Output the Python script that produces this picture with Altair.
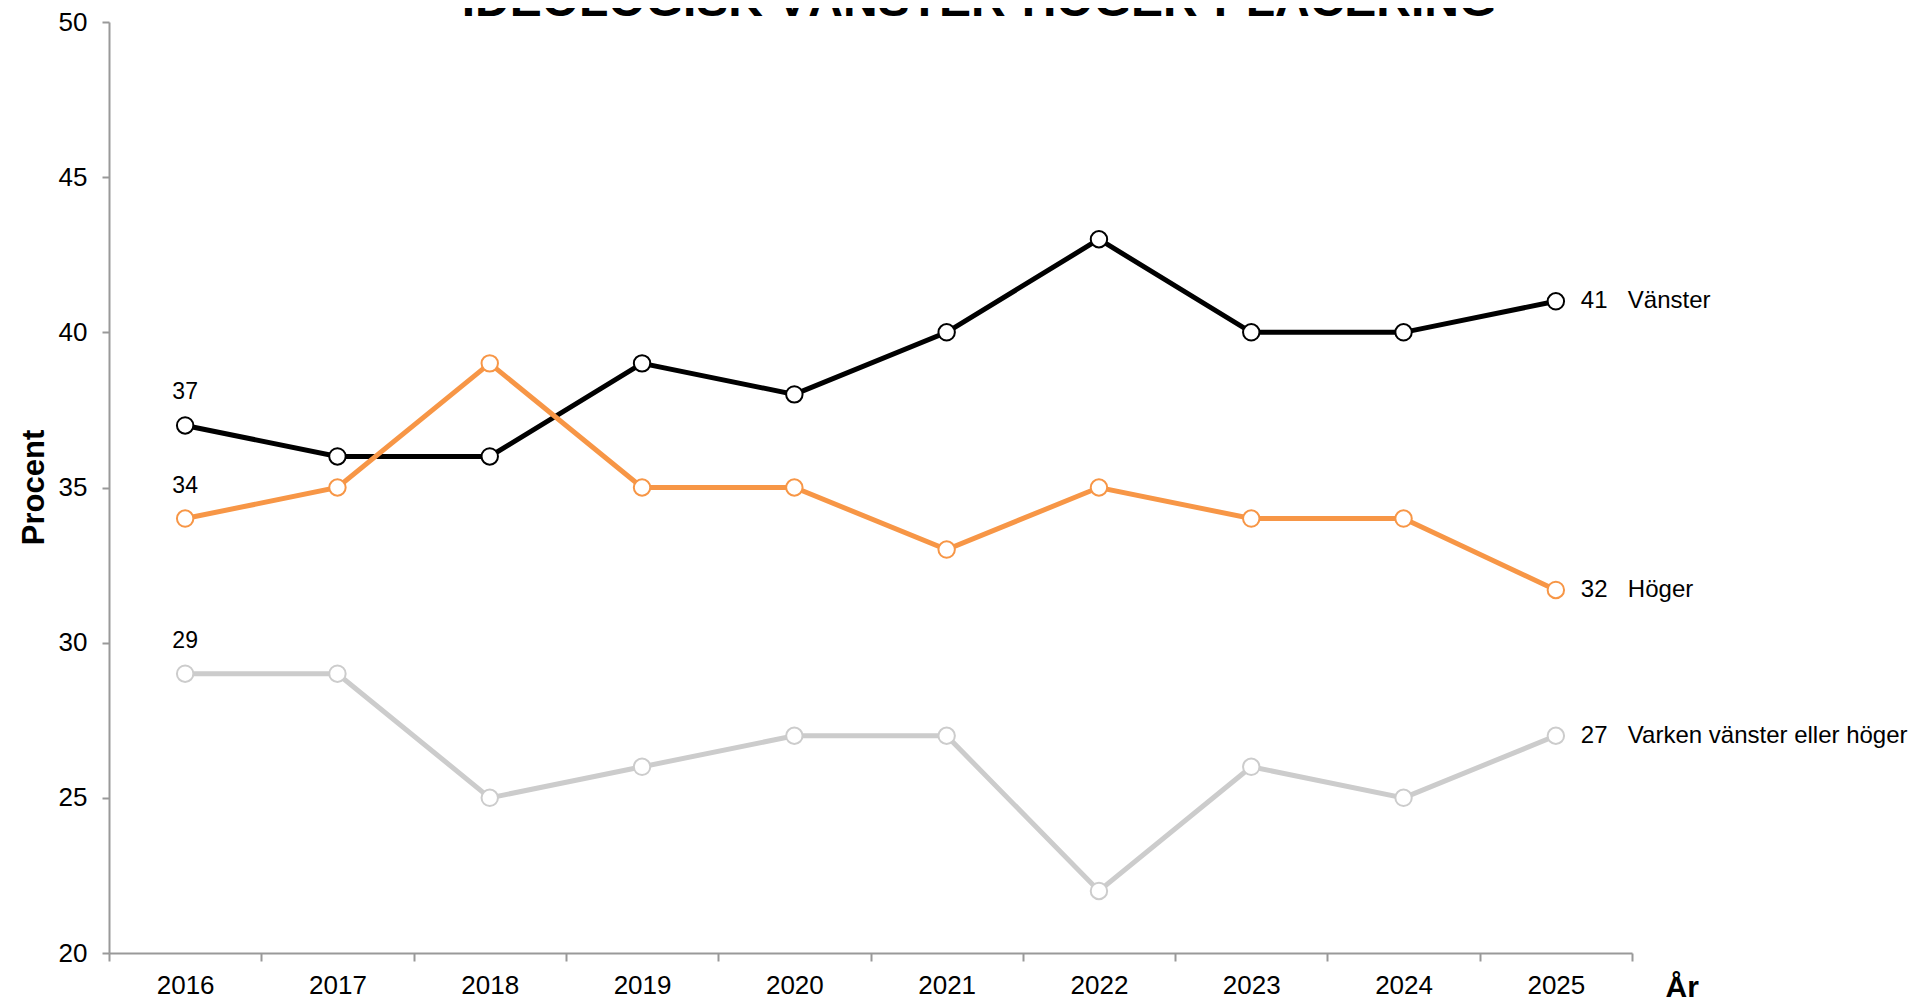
import altair as alt
import pandas as pd

years = ["2016", "2017", "2018", "2019", "2020", "2021", "2022", "2023", "2024", "2025"]
series_names = ["Varken vänster eller höger", "Höger", "Vänster"]
series_colors = ["#CCCCCC", "#F79646", "#000000"]
vanster = [37, 36, 36, 39, 38, 40, 43, 40, 40, 41]
hoger = [34, 35, 39, 35, 35, 33, 35, 34, 34, 31.7]
varken = [29, 29, 25, 26, 27, 27, 22, 26, 25, 27]
y_ticks = [20, 25, 30, 35, 40, 45, 50]
title_text = ["IDEOLOGISK V\u00c4NSTER-H\u00d6GER-PLACERING"]
x_title = "\u00c5r"

rows = []
for name, vals in zip(["Vänster", "Höger", "Varken vänster eller höger"], [vanster, hoger, varken]):
    for i, (yr, v) in enumerate(zip(years, vals)):
        rows.append({"year": yr, "value": v, "series": name,
                     "first": i == 0, "last": i == len(years) - 1})
df = pd.DataFrame(rows)

FONT = "Liberation Sans"
AXIS_COL = "#999999"

x_enc = alt.X("year:O",
              scale=alt.Scale(type="band", paddingInner=0, paddingOuter=0),
              axis=alt.Axis(tickBand="extent", labelAngle=0, labelFontSize=26,
                            labelColor="#000000", labelPadding=11,
                            tickSize=8, tickColor=AXIS_COL, tickWidth=2,
                            domainColor=AXIS_COL, domainWidth=2,
                            grid=False,
                            title=x_title, titleFontSize=30, titleFontWeight="bold",
                            titleColor="#000000", titleFont=FONT,
                            titleX=1556, titleY=43, titleAlign="left",
                            titleBaseline="alphabetic", titleAngle=0))
y_enc = alt.Y("value:Q",
              scale=alt.Scale(domain=[20, 50], nice=False, zero=False),
              axis=alt.Axis(values=y_ticks, labelFontSize=26, labelColor="#000000",
                            labelPadding=15, tickSize=7, tickColor=AXIS_COL,
                            tickWidth=2, domainColor=AXIS_COL, domainWidth=2,
                            grid=False,
                            title="Procent", titleFontSize=31, titleFontWeight="bold",
                            titleColor="#000000", titleAngle=-90, titleFont=FONT,
                            titleX=-66, titleY=465, titleAlign="center",
                            titleBaseline="alphabetic"))
color_enc = alt.Color("series:N",
                      scale=alt.Scale(domain=series_names, range=series_colors),
                      legend=None)

base = alt.Chart(df).encode(x=x_enc, y=y_enc)

lines = base.mark_line(strokeWidth=5).encode(
    color=color_enc, detail="series:N",
    order=alt.Order("year:O"))
points = base.mark_point(filled=False, fill="white", fillOpacity=1, size=270,
                         strokeWidth=2, opacity=1).encode(color=color_enc)

first_labels = base.transform_filter("datum.first").mark_text(
    fontSize=23, color="#000000", dy=-26, baseline="alphabetic", align="center"
).encode(text=alt.Text("value:Q", format=".0f"))

last_values = base.transform_filter("datum.last").mark_text(
    fontSize=24, color="#000000", dx=25, baseline="middle", align="left"
).encode(text=alt.Text("value:Q", format=".0f"))

last_names = base.transform_filter("datum.last").mark_text(
    fontSize=24, color="#000000", dx=72, baseline="middle", align="left"
).encode(text="series:N")

title_mark = alt.Chart(pd.DataFrame({"t": title_text})).mark_text(
    fontSize=48, fontWeight="bold", color="#000000", align="center",
    baseline="alphabetic", font=FONT
).encode(text="t:N", x=alt.value(870), y=alt.value(-6))

chart = alt.layer(lines, points, first_labels, last_values, last_names, title_mark).properties(
    width=1523, height=931,
    autosize=alt.AutoSizeParams(type="none"),
    padding={"left": 101, "top": 14, "right": 284, "bottom": 48},
).configure(font=FONT).configure_view(stroke=None)

chart.save("out.html", embed_options={"renderer": "svg", "actions": False})
